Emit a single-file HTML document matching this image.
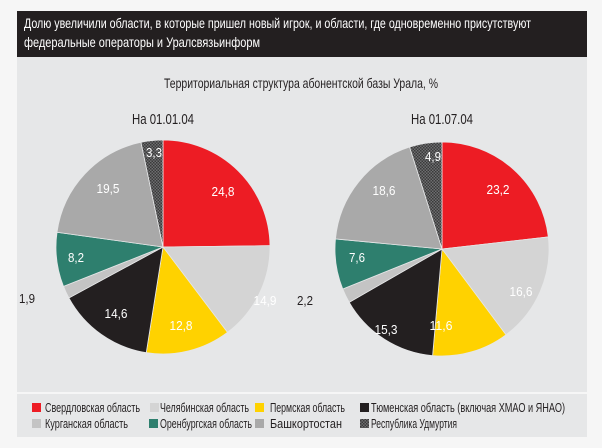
<!DOCTYPE html><html><head><meta charset="utf-8"><style>
body{margin:0;width:602px;height:448px;background:#f6f6f6;position:relative;overflow:hidden}
</style></head><body>
<svg width="602" height="448" style="position:absolute;left:0;top:0" font-family="Liberation Sans, sans-serif">
<defs><pattern id="h" width="3" height="3" patternUnits="userSpaceOnUse"><rect width="3" height="3" fill="#6d6e70"/><rect width="1.5" height="1.5" fill="#3a3a3a"/><rect x="1.5" y="1.5" width="1.5" height="1.5" fill="#3a3a3a"/></pattern></defs>
<rect x="17" y="11" width="570" height="46" fill="#231f20"/>
<rect x="17" y="57" width="570" height="335" fill="#e6e7e8"/>
<rect x="17" y="394" width="570" height="43" fill="#e6e7e8"/>
<g fill="#fff" font-size="14">
<text x="24" y="28" textLength="507" lengthAdjust="spacingAndGlyphs">Долю увеличили области, в которые пришел новый игрок, и области, где одновременно присутствуют</text>
<text x="24" y="47" textLength="236" lengthAdjust="spacingAndGlyphs">федеральные операторы и Уралсвязьинформ</text>
</g>
<g fill="#231f20">
<text x="164" y="88" font-size="14" textLength="274" lengthAdjust="spacingAndGlyphs">Территориальная структура абонентской базы Урала, %</text>
<text x="163" y="124" text-anchor="middle" font-size="15" textLength="62" lengthAdjust="spacingAndGlyphs">На 01.01.04</text>
<text x="442" y="124" text-anchor="middle" font-size="15" textLength="62" lengthAdjust="spacingAndGlyphs">На 01.07.04</text>
</g>
<g id="p1"></g><g id="p2"></g>
<g font-size="13" fill="#fff" text-anchor="middle">
<text x="223" y="196" textLength="23" lengthAdjust="spacingAndGlyphs">24,8</text><text x="265" y="305" textLength="23" lengthAdjust="spacingAndGlyphs">14,9</text><text x="181" y="330" textLength="23" lengthAdjust="spacingAndGlyphs">12,8</text><text x="116" y="318" textLength="23" lengthAdjust="spacingAndGlyphs">14,6</text><text x="76" y="262" textLength="16" lengthAdjust="spacingAndGlyphs">8,2</text><text x="108" y="193" textLength="23" lengthAdjust="spacingAndGlyphs">19,5</text><text x="154" y="157" textLength="16" lengthAdjust="spacingAndGlyphs">3,3</text>
<text x="498" y="194" textLength="23" lengthAdjust="spacingAndGlyphs">23,2</text><text x="521" y="296" textLength="23" lengthAdjust="spacingAndGlyphs">16,6</text><text x="441" y="330" textLength="23" lengthAdjust="spacingAndGlyphs">11,6</text><text x="386" y="334" textLength="23" lengthAdjust="spacingAndGlyphs">15,3</text><text x="357" y="262" textLength="16" lengthAdjust="spacingAndGlyphs">7,6</text><text x="384" y="195" textLength="23" lengthAdjust="spacingAndGlyphs">18,6</text><text x="433" y="161" textLength="16" lengthAdjust="spacingAndGlyphs">4,9</text>
</g>
<g font-size="13" fill="#231f20" text-anchor="middle"><text x="27" y="303" textLength="16" lengthAdjust="spacingAndGlyphs">1,9</text><text x="305" y="305" textLength="16" lengthAdjust="spacingAndGlyphs">2,2</text></g>
<g font-size="12.5" fill="#231f20">
<rect x="32" y="403" width="9" height="9" fill="#ed1c24"/><text x="45" y="412" textLength="95" lengthAdjust="spacingAndGlyphs">Свердловская область</text>
<rect x="150" y="403" width="9" height="9" fill="#d4d4d4"/><text x="160" y="412" textLength="89" lengthAdjust="spacingAndGlyphs">Челябинская область</text>
<rect x="255" y="403" width="9" height="9" fill="#ffd200"/><text x="270" y="412" textLength="75" lengthAdjust="spacingAndGlyphs">Пермская область</text>
<rect x="360" y="403" width="9" height="9" fill="#231f20"/><text x="371" y="412" textLength="194" lengthAdjust="spacingAndGlyphs">Тюменская область (включая ХМАО и ЯНАО)</text>
<rect x="32" y="419" width="9" height="9" fill="#c4c4c4"/><text x="45" y="428" textLength="83" lengthAdjust="spacingAndGlyphs">Курганская область</text>
<rect x="149" y="419" width="9" height="9" fill="#2e7f6e"/><text x="160" y="428" textLength="92" lengthAdjust="spacingAndGlyphs">Оренбургская область</text>
<rect x="255" y="419" width="9" height="9" fill="#a9a9a9"/><text x="270" y="428" textLength="72" lengthAdjust="spacingAndGlyphs">Башкортостан</text>
<rect x="360" y="419" width="9" height="9" fill="url(#h)"/><text x="371" y="428" textLength="86" lengthAdjust="spacingAndGlyphs">Республика Удмуртия</text>
</g>
</svg>
<script>
var cols=["#ed1c24","#d4d4d4","#ffd200","#231f20","#c4c4c4","#2e7f6e","#a9a9a9","url(#h)"];
function pie(id,cx,cy,r,v){var g=document.getElementById(id),a=0,h="";
for(var i=0;i<v.length;i++){var a0=a*3.6*Math.PI/180;a+=v[i];var a1=a*3.6*Math.PI/180;
var x0=cx+r*Math.sin(a0),y0=cy-r*Math.cos(a0),x1=cx+r*Math.sin(a1),y1=cy-r*Math.cos(a1);
h+='<path d="M'+cx+' '+cy+'L'+x0.toFixed(2)+' '+y0.toFixed(2)+'A'+r+' '+r+' 0 '+(v[i]>50?1:0)+' 1 '+x1.toFixed(2)+' '+y1.toFixed(2)+'Z" fill="'+cols[i]+'" stroke="#e6e7e8" stroke-width="0.8"/>';}
g.innerHTML=h;}
pie("p1",163,247,107,[24.8,14.9,12.8,14.6,1.9,8.2,19.5,3.3]);
pie("p2",442,249,107,[23.2,16.6,11.6,15.3,2.2,7.6,18.6,4.9]);
</script>
</body></html>
